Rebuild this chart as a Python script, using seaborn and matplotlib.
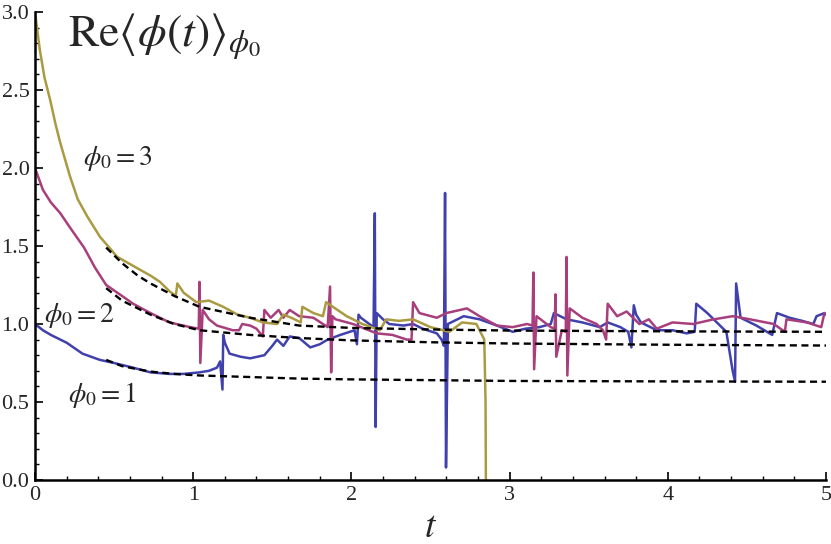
import matplotlib
matplotlib.use('Agg')
import matplotlib.pyplot as plt
import seaborn as sns
import pandas as pd
from matplotlib.ticker import MultipleLocator, FormatStrFormatter

# traces (t, Re<phi(t)>), spikes kept as close pairs
t_blue = [0.00, 0.05, 0.10, 0.20, 0.30, 0.41, 0.50, 0.62, 0.73, 0.85, 0.94, 1.04, 1.10, 1.15, 1.17, 1.185,
          1.19, 1.20, 1.23, 1.30, 1.36, 1.45, 1.50, 1.53, 1.57, 1.61, 1.67, 1.74, 1.80, 1.85, 1.93, 2.02,
          2.035, 2.045, 2.06, 2.10, 2.14, 2.148, 2.153, 2.16, 2.20, 2.24, 2.33, 2.39, 2.45, 2.54, 2.57,
          2.585, 2.592, 2.598, 2.61, 2.71, 2.81, 2.92, 3.02, 3.10, 3.19, 3.26, 3.28, 3.36, 3.46, 3.57,
          3.62, 3.70, 3.75, 3.77, 3.785, 3.80, 3.83, 3.93, 4.03, 4.12, 4.17, 4.18, 4.25, 4.37, 4.41,
          4.425, 4.432, 4.46, 4.56, 4.66, 4.69, 4.77, 4.85, 4.92, 4.94, 4.99, 5.00]
re_blue = [1.00, 0.96, 0.93, 0.88, 0.81, 0.77, 0.75, 0.72, 0.69, 0.68, 0.68, 0.69, 0.70, 0.72, 0.76, 0.58,
           0.93, 0.88, 0.81, 0.79, 0.78, 0.80, 0.86, 0.90, 0.86, 0.92, 0.91, 0.85, 0.87, 0.90, 0.93, 0.96,
           0.87, 1.06, 1.04, 1.01, 0.98, 1.71, 0.34, 1.07, 1.03, 1.00, 0.99, 1.00, 0.97, 0.94, 0.90,
           0.86, 1.84, 0.08, 1.00, 1.05, 1.03, 0.99, 0.95, 0.97, 0.98, 1.00, 1.07, 1.03, 1.01, 0.98,
           1.01, 0.98, 0.95, 0.85, 1.12, 1.06, 1.01, 0.96, 0.96, 0.94, 0.95, 1.13, 1.07, 0.95, 0.70,
           0.63, 1.26, 1.04, 0.99, 0.93, 1.07, 1.04, 1.02, 1.00, 1.05, 1.07, 1.06]

t_mag = [0.00, 0.05, 0.10, 0.16, 0.22, 0.31, 0.38, 0.45, 0.55, 0.62, 0.73, 0.85, 0.98, 1.035, 1.04, 1.045,
         1.06, 1.10, 1.15, 1.25, 1.29, 1.31, 1.36, 1.40, 1.44, 1.45, 1.49, 1.54, 1.57, 1.61, 1.67, 1.76,
         1.85, 1.865, 1.872, 1.88, 1.90, 2.01, 2.16, 2.26, 2.35, 2.38, 2.39, 2.43, 2.54, 2.60, 2.73,
         2.81, 2.92, 3.02, 3.11, 3.145, 3.15, 3.155, 3.17, 3.26, 3.285, 3.29, 3.295, 3.33, 3.355, 3.36,
         3.365, 3.38, 3.46, 3.55, 3.59, 3.61, 3.62, 3.68, 3.74, 3.82, 3.88, 3.93, 4.03, 4.16, 4.29,
         4.41, 4.52, 4.67, 4.74, 4.75, 4.88, 4.97, 4.99]
re_mag = [2.00, 1.86, 1.78, 1.71, 1.62, 1.49, 1.36, 1.25, 1.18, 1.13, 1.07, 1.01, 0.98, 0.97, 1.27, 0.75,
          1.09, 1.03, 0.99, 0.96, 0.96, 1.00, 0.99, 0.97, 0.92, 1.09, 1.04, 1.09, 1.04, 1.09, 1.05, 1.04,
          0.98, 1.24, 0.69, 1.05, 1.03, 1.00, 0.94, 0.93, 0.90, 0.90, 1.14, 1.07, 1.04, 1.07, 1.10,
          1.05, 0.99, 0.98, 1.00, 0.99, 1.33, 0.71, 1.05, 0.98, 0.97, 1.19, 0.79, 0.96, 0.95, 1.43,
          0.67, 1.10, 1.04, 1.00, 0.96, 0.90, 1.13, 1.05, 1.08, 1.00, 1.03, 0.97, 1.01, 1.00, 1.03,
          1.05, 1.03, 1.00, 0.95, 1.03, 1.01, 0.98, 1.07]

t_yel = [0.00, 0.03, 0.06, 0.095, 0.13, 0.16, 0.22, 0.27, 0.33, 0.41, 0.52, 0.66, 0.73, 0.79, 0.85, 0.89,
         0.90, 0.94, 1.02, 1.10, 1.19, 1.28, 1.36, 1.44, 1.53, 1.57, 1.62, 1.68, 1.69, 1.76, 1.82, 1.84,
         1.97, 2.07, 2.18, 2.22, 2.30, 2.39, 2.50, 2.62, 2.70, 2.79, 2.84, 2.848, 2.852]
re_yel = [3.00, 2.76, 2.58, 2.44, 2.28, 2.16, 1.95, 1.80, 1.69, 1.56, 1.43, 1.35, 1.31, 1.27, 1.21, 1.18,
          1.26, 1.20, 1.14, 1.15, 1.11, 1.06, 1.04, 1.01, 1.00, 1.06, 1.04, 1.01, 1.11, 1.07, 1.05, 1.14,
          1.05, 1.00, 0.96, 1.03, 1.02, 1.03, 0.98, 0.95, 1.01, 1.00, 0.90, 0.50, -0.50]

# dashed fits
t_fit = [0.45, 0.55, 0.65, 0.73, 0.88, 1.04, 1.36, 1.67, 2.0, 2.5, 3.0, 4.0, 5.0]
fit3 = [1.49, 1.39, 1.31, 1.26, 1.18, 1.11, 1.04, 0.99, 0.975, 0.965, 0.958, 0.953, 0.950]
fit2 = [1.23, 1.15, 1.10, 1.06, 1.00, 0.96, 0.93, 0.91, 0.895, 0.883, 0.875, 0.867, 0.862]
fit1 = [0.77, 0.73, 0.71, 0.695, 0.68, 0.67, 0.66, 0.65, 0.645, 0.64, 0.635, 0.632, 0.63]

labels = [r'$\phi_0 = 3$', r'$\phi_0 = 2$', r'$\phi_0 = 1$']

sns.set_style('ticks')
plt.rcParams['font.family'] = ['Liberation Serif', 'DejaVu Serif']
plt.rcParams['mathtext.fontset'] = 'stix'

fig = plt.figure(figsize=(8.31, 5.44), dpi=100)
ax = fig.add_axes([35 / 831, 64 / 544, 791 / 831, 468 / 544])

cols = {'blue': '#4141ad', 'mag': '#a83f7c', 'yel': '#aa9a42'}
for t, v, c in [(t_blue, re_blue, cols['blue']), (t_mag, re_mag, cols['mag']), (t_yel, re_yel, cols['yel'])]:
    df = pd.DataFrame({'t': t, 're': v})
    sns.lineplot(data=df, x='t', y='re', ax=ax, color=c, lw=1.8, sort=False, estimator=None)

for f in [fit3, fit2, fit1]:
    df = pd.DataFrame({'t': t_fit, 're': f})
    sns.lineplot(data=df, x='t', y='re', ax=ax, color='black', lw=1.7, sort=False, estimator=None,
                 dashes=False, linestyle=(0, (3.0, 1.9)))

ax.set_xlim(0, 5)
ax.set_ylim(0, 3)
ax.xaxis.set_major_locator(MultipleLocator(1))
ax.xaxis.set_minor_locator(MultipleLocator(0.2))
ax.yaxis.set_major_locator(MultipleLocator(0.5))
ax.yaxis.set_minor_locator(MultipleLocator(0.1))
ax.yaxis.set_major_formatter(FormatStrFormatter('%.1f'))
ax.tick_params(which='major', direction='in', length=6, width=1.2, labelsize=16, pad=4, color='black')
ax.tick_params(which='minor', direction='in', length=3, width=1.0, color='black')
for s in ['top', 'right']:
    ax.spines[s].set_visible(False)
for s in ['left', 'bottom']:
    ax.spines[s].set_linewidth(1.8)
    ax.spines[s].set_color('black')

ax.set_xlabel(r'$t$', fontsize=27, labelpad=4)
ax.set_ylabel('')

ax.text(0.042, 0.925, r'$\mathrm{Re}\langle\phi(t)\rangle_{\phi_0}$', transform=ax.transAxes,
        fontsize=33, ha='left', va='baseline')
ax.text(0.061, 0.673, labels[0], transform=ax.transAxes, fontsize=20, ha='left', va='baseline')
ax.text(0.012, 0.338, labels[1], transform=ax.transAxes, fontsize=20, ha='left', va='baseline')
ax.text(0.042, 0.167, labels[2], transform=ax.transAxes, fontsize=20, ha='left', va='baseline')

plt.savefig('out.png', dpi=100)
plt.close()
